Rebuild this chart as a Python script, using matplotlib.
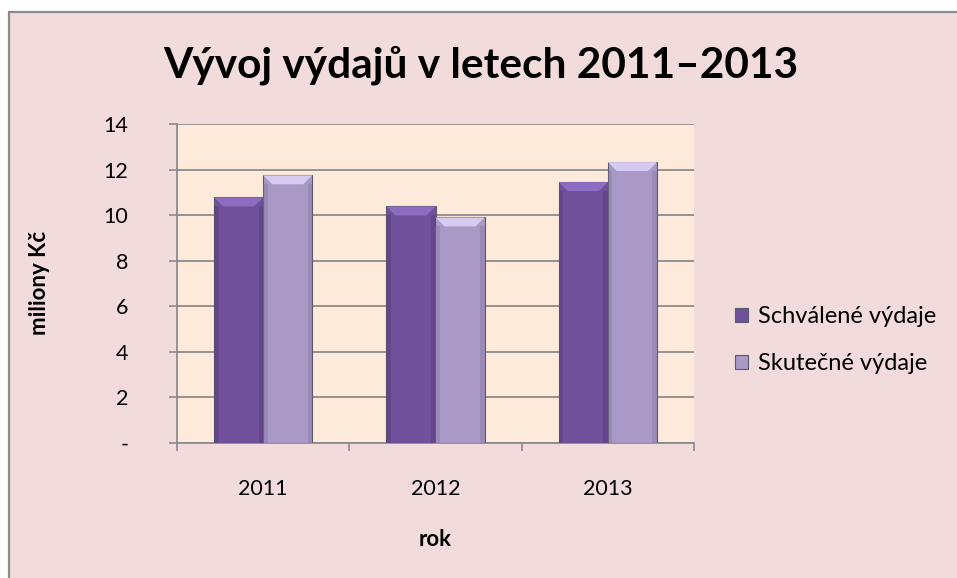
import numpy as np
from matplotlib import pyplot as plt
from matplotlib.patches import Rectangle, Polygon

# data
roky = ['2011', '2012', '2013']
schvalene = [10.78, 10.38, 11.45]
skutecne = [11.75, 9.90, 12.33]
serie = ['Schválené výdaje', 'Skutečné výdaje']
y_ticks = [0, 2, 4, 6, 8, 10, 12, 14]
y_labels = ['-', '2', '4', '6', '8', '10', '12', '14']

plt.rcParams['font.family'] = ['Lato', 'DejaVu Sans']

W, H = 957, 578
fig = plt.figure(figsize=(W/100, H/100), dpi=100)
fig.patch.set_facecolor('white')

# chart area with grey frame (cut off on right/bottom)
fig.patches.append(Rectangle((9/W, -0.2), 2, 1 - 12/H + 0.2, transform=fig.transFigure,
                             facecolor='#F2DCDB', edgecolor='#8c8c8c', lw=1.6, zorder=-10))

ax = fig.add_axes([177/W, 1 - 443/H, (694 - 177)/W, (443 - 124)/H])
ax.set_facecolor('#FDEADA')

x = np.arange(len(roky))
bw = 0.285
cols = [('#70509A', '#8C6DC2', '#4E3672'), ('#A899C6', '#D6CAF0', '#7F7199')]
ytop_px = (443 - 124) / 14.0  # pixels per unit


def draw_bars(xs, vals, c):
    bars = ax.bar(xs, vals, bw, color=c[0], edgecolor='#5a5a6a', lw=0.8, zorder=3)
    bev_y = 9 / ytop_px
    bev_x = 9 / 172
    for xx, v in zip(xs, vals):
        l, r = xx - bw/2, xx + bw/2
        # horni zkoseni
        ax.add_patch(Polygon([[l, v], [r, v], [r - bev_x, v - bev_y], [l + bev_x, v - bev_y]],
                             closed=True, facecolor=c[1], edgecolor='none', zorder=4))
        # stiny po stranach
        ax.add_patch(Rectangle((l, 0), bev_x * 0.5, v - bev_y, facecolor=c[2], alpha=0.35,
                               edgecolor='none', zorder=4))
        ax.add_patch(Rectangle((r - bev_x * 0.5, 0), bev_x * 0.5, v - bev_y, facecolor=c[2],
                               alpha=0.35, edgecolor='none', zorder=4))
    return bars


b1 = draw_bars(x - bw/2, schvalene, cols[0])
b2 = draw_bars(x + bw/2, skutecne, cols[1])

ax.set_xlim(-0.5, 2.5)
ax.set_ylim(0, 14)
ax.set_yticks(y_ticks)
ax.set_yticklabels(y_labels, fontsize=15.5)
ax.set_xticks(x)
ax.set_xticklabels(roky, fontsize=15.5)
ax.set_xticks([-0.5, 0.5, 1.5, 2.5], minor=True)
ax.tick_params(axis='x', which='major', length=0, pad=26)
ax.tick_params(axis='x', which='minor', length=6, color='#888888', width=1.2)
ax.tick_params(axis='y', length=6, color='#888888', width=1.2, pad=29)
ax.yaxis.grid(True, color='#8c8c8c', lw=1.3, zorder=1)
ax.set_axisbelow(True)
for s in ['top', 'right']:
    ax.spines[s].set_visible(False)
for s in ['left', 'bottom']:
    ax.spines[s].set_color('#8c8c8c')
    ax.spines[s].set_linewidth(1.3)

fig.text(481/W, 1 - 65/H, 'Vývoj výdajů v letech 2011–2013', fontsize=30.5, fontweight='bold',
         ha='center', va='center')
fig.text(40/W, 1 - 283/H, 'miliony Kč', fontsize=16, fontweight='bold', rotation=90,
         ha='center', va='center')
fig.text(435/W, 1 - 540/H, 'rok', fontsize=16, fontweight='bold', ha='center', va='center')

leg = ax.legend([b1, b2], serie, loc='center left', bbox_to_anchor=(714/W, 1 - 340/H),
                bbox_transform=fig.transFigure, frameon=False, fontsize=17,
                handlelength=0.55, handleheight=0.55, handletextpad=0.4, labelspacing=1.1)

plt.savefig('out.png', dpi=100, facecolor=fig.get_facecolor())
